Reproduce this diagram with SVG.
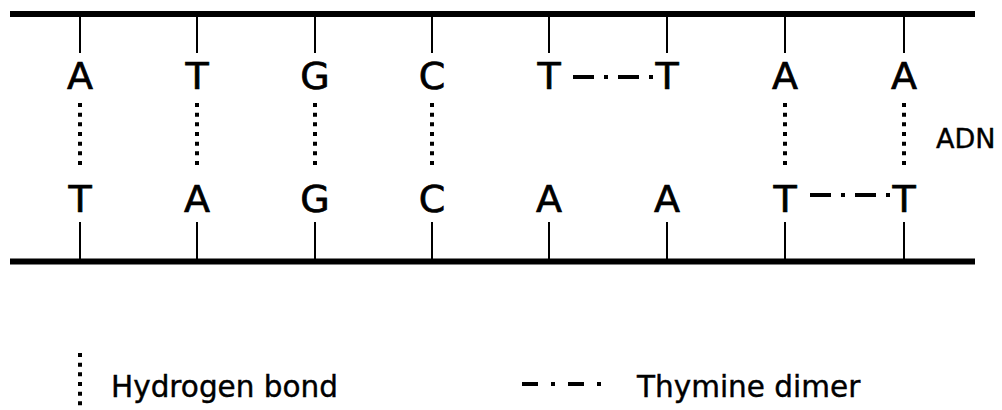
<svg xmlns="http://www.w3.org/2000/svg" width="1002" height="410" viewBox="0 0 1002 410">
<style>
.strand{stroke:#000;stroke-width:6;fill:none}
.tick{stroke:#000;stroke-width:2;fill:none}
.hb{stroke:#000;stroke-width:4;stroke-dasharray:4 5.67;fill:none}
.dimer{stroke:#000;stroke-width:4;stroke-dasharray:21 10 4 10;fill:none}
.base{font-family:"DejaVu Sans",Verdana,sans-serif;font-size:38px;fill:#000;stroke:#000;stroke-width:0.7;text-anchor:middle}
.lbl{font-family:"DejaVu Sans",Verdana,sans-serif;font-size:29.5px;fill:#000;stroke:#000;stroke-width:0.4}
</style>
<rect width="1002" height="410" fill="#fff"/>
<g id="strands">
<line class="strand" x1="10" y1="14" x2="975" y2="14"/>
<line class="strand" x1="10" y1="261.5" x2="975" y2="261.5"/>
</g>
<g id="connectors">
<line class="tick" x1="80" y1="17" x2="80" y2="53"/>
<line class="tick" x1="197" y1="17" x2="197" y2="53"/>
<line class="tick" x1="315" y1="17" x2="315" y2="53"/>
<line class="tick" x1="432" y1="17" x2="432" y2="53"/>
<line class="tick" x1="549" y1="17" x2="549" y2="53"/>
<line class="tick" x1="667" y1="17" x2="667" y2="53"/>
<line class="tick" x1="785" y1="17" x2="785" y2="53"/>
<line class="tick" x1="904" y1="17" x2="904" y2="53"/>
<line class="tick" x1="80" y1="222" x2="80" y2="259"/>
<line class="tick" x1="197" y1="222" x2="197" y2="259"/>
<line class="tick" x1="315" y1="222" x2="315" y2="259"/>
<line class="tick" x1="432" y1="222" x2="432" y2="259"/>
<line class="tick" x1="549" y1="222" x2="549" y2="259"/>
<line class="tick" x1="667" y1="222" x2="667" y2="259"/>
<line class="tick" x1="785" y1="222" x2="785" y2="259"/>
<line class="tick" x1="904" y1="222" x2="904" y2="259"/>
<line class="hb" x1="80" y1="103" x2="80" y2="165"/>
<line class="hb" x1="197" y1="103" x2="197" y2="165"/>
<line class="hb" x1="315" y1="103" x2="315" y2="165"/>
<line class="hb" x1="432" y1="103" x2="432" y2="165"/>
<line class="hb" x1="785" y1="103" x2="785" y2="165"/>
<line class="hb" x1="904" y1="103" x2="904" y2="165"/>
<line class="dimer" x1="573" y1="77" x2="653" y2="77"/>
<line class="dimer" x1="810" y1="195" x2="890" y2="195"/>
</g>
<g id="top-bases">
<text class="base" x="80" y="89">A</text>
<text class="base" x="197" y="89">T</text>
<text class="base" x="315" y="89">G</text>
<text class="base" x="432" y="89">C</text>
<text class="base" x="549" y="89">T</text>
<text class="base" x="667" y="89">T</text>
<text class="base" x="785" y="89">A</text>
<text class="base" x="904" y="89">A</text>
</g>
<g id="bottom-bases">
<text class="base" x="80" y="212">T</text>
<text class="base" x="197" y="212">A</text>
<text class="base" x="315" y="212">G</text>
<text class="base" x="432" y="212">C</text>
<text class="base" x="549" y="212">A</text>
<text class="base" x="667" y="212">A</text>
<text class="base" x="785" y="212">T</text>
<text class="base" x="904" y="212">T</text>
</g>
<g id="adn-label">
<text class="lbl" x="936" y="148" style="font-size:27px">ADN</text>
</g>
<g id="legend-hydrogen">
<line class="hb" x1="80" y1="353" x2="80" y2="412"/>
<text class="lbl" x="111" y="397">Hydrogen bond</text>
</g>
<g id="legend-dimer">
<line x1="522" y1="384" x2="602" y2="384" stroke="#000" stroke-width="4" stroke-dasharray="16 13 4 13"/>
<text class="lbl" x="637" y="397">Thymine dimer</text>
</g>
</svg>
